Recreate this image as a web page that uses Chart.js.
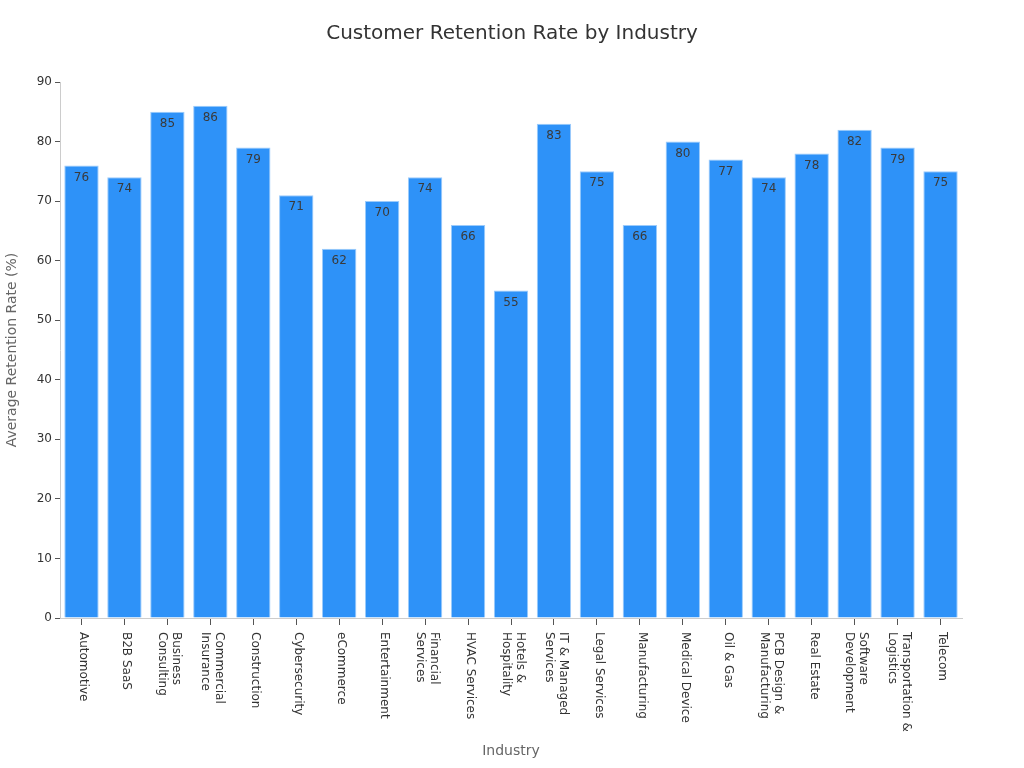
<!DOCTYPE html>
<html>
<head>
<meta charset="utf-8">
<script src="https://cdn.jsdelivr.net/npm/chart.js@4"></script>
<style>
  html, body { margin: 0; padding: 0; background: #fff; }
  #wrap { width: 1024px; height: 768px; }
</style>
</head>
<body>
<div id="wrap"><canvas id="retention"></canvas></div>
<script>
const industries = [
    ["Automotive"], ["B2B SaaS"], ["Business", "Consulting"], ["Commercial", "Insurance"],
    ["Construction"], ["Cybersecurity"], ["eCommerce"], ["Entertainment"],
    ["Financial", "Services"], ["HVAC Services"], ["Hotels &", "Hospitality"],
    ["IT & Managed", "Services"], ["Legal Services"], ["Manufacturing"], ["Medical Device"],
    ["Oil & Gas"], ["PCB Design &", "Manufacturing"], ["Real Estate"],
    ["Software", "Development"], ["Transportation &", "Logistics"], ["Telecom"]
];
const retention = [76, 74, 85, 86, 79, 71, 62, 70, 74, 66, 55, 83, 75, 66, 80, 77, 74, 78, 82, 79, 75];
const yTicks = [0, 10, 20, 30, 40, 50, 60, 70, 80, 90];

const FONT = "'DejaVu Sans', sans-serif";

// value labels just inside the top of each bar
const valueLabels = {
    id: "valueLabels",
    afterDatasetsDraw(chart) {
        const ctx = chart.ctx;
        const meta = chart.getDatasetMeta(0);
        ctx.save();
        ctx.font = "12px " + FONT;
        ctx.fillStyle = "#3a3a3a";
        ctx.textAlign = "center";
        ctx.textBaseline = "middle";
        meta.data.forEach((bar, i) => {
            ctx.fillText(String(retention[i]), bar.x, bar.y + 12);
        });
        ctx.restore();
    }
};

// x labels rotated clockwise, reading top to bottom
const rotatedLabels = {
    id: "rotatedLabels",
    afterDraw(chart) {
        const ctx = chart.ctx;
        const xs = chart.scales.x;
        const top = chart.chartArea.bottom + 14;
        const lh = 14;
        ctx.save();
        ctx.font = "12px " + FONT;
        ctx.fillStyle = "#333";
        ctx.textAlign = "left";
        ctx.textBaseline = "middle";
        industries.forEach((lines, i) => {
            const x = xs.getPixelForTick(i);
            ctx.save();
            ctx.translate(x, top);
            ctx.rotate(Math.PI / 2);
            lines.forEach((line, j) => {
                const off = (j - (lines.length - 1) / 2) * lh;
                ctx.fillText(line, 0, off - 2);
            });
            ctx.restore();
        });
        ctx.restore();
    }
};

const ctx = document.getElementById("retention").getContext("2d");
const retentionChart = new Chart(ctx, {
    type: "bar",
    data: {
        labels: industries.map(l => l.join(" ")),
        datasets: [{
            label: "Average Retention Rate (%)",
            data: retention,
            backgroundColor: "#2e92f8",
            borderColor: "#9ccbfb",
            borderWidth: 1,
            barPercentage: 0.8,
            categoryPercentage: 1.0
        }]
    },
    options: {
        responsive: true,
        maintainAspectRatio: false,
        animation: false,
        layout: {
            padding: { left: 0, right: 0, top: 0, bottom: 4 }
        },
        plugins: {
            legend: { display: false },
            tooltip: { enabled: false },
            title: {
                display: true,
                text: "Customer Retention Rate by Industry",
                color: "#333",
                font: { family: FONT, size: 20, weight: "normal" },
                padding: { top: 22, bottom: 36 }
            }
        },
        scales: {
            x: {
                grid: {
                    offset: false,
                    drawOnChartArea: false,
                    drawTicks: true,
                    tickLength: 7,
                    color: "#555"
                },
                border: { color: "#ccc" },
                ticks: { display: false },
                title: {
                    display: true,
                    text: "Industry",
                    color: "#666",
                    font: { family: FONT, size: 14 },
                    padding: { top: 4, bottom: 4 }
                },
                afterFit(scale) {
                    scale.height = 146;
                }
            },
            y: {
                min: 0,
                max: 90,
                afterBuildTicks(scale) {
                    scale.ticks = yTicks.map(v => ({ value: v }));
                },
                grid: {
                    drawOnChartArea: false,
                    drawTicks: true,
                    tickLength: 5,
                    color: "#555"
                },
                border: { color: "#ccc" },
                ticks: {
                    color: "#333",
                    padding: 3,
                    font: { family: FONT, size: 12 }
                },
                title: {
                    display: true,
                    text: "Average Retention Rate (%)",
                    color: "#666",
                    font: { family: FONT, size: 14 },
                    padding: { top: 4, bottom: 4 }
                },
                afterFit(scale) {
                    scale.width = 60;
                }
            },
            // empty right-hand spacer so the plot ends where the reference does
            spacer: {
                position: "right",
                display: true,
                min: 0,
                max: 90,
                grid: { display: false },
                border: { display: false },
                ticks: { display: false },
                afterFit(scale) {
                    scale.width = 62;
                }
            }
        }
    },
    plugins: [valueLabels, rotatedLabels]
});
</script>
</body>
</html>
